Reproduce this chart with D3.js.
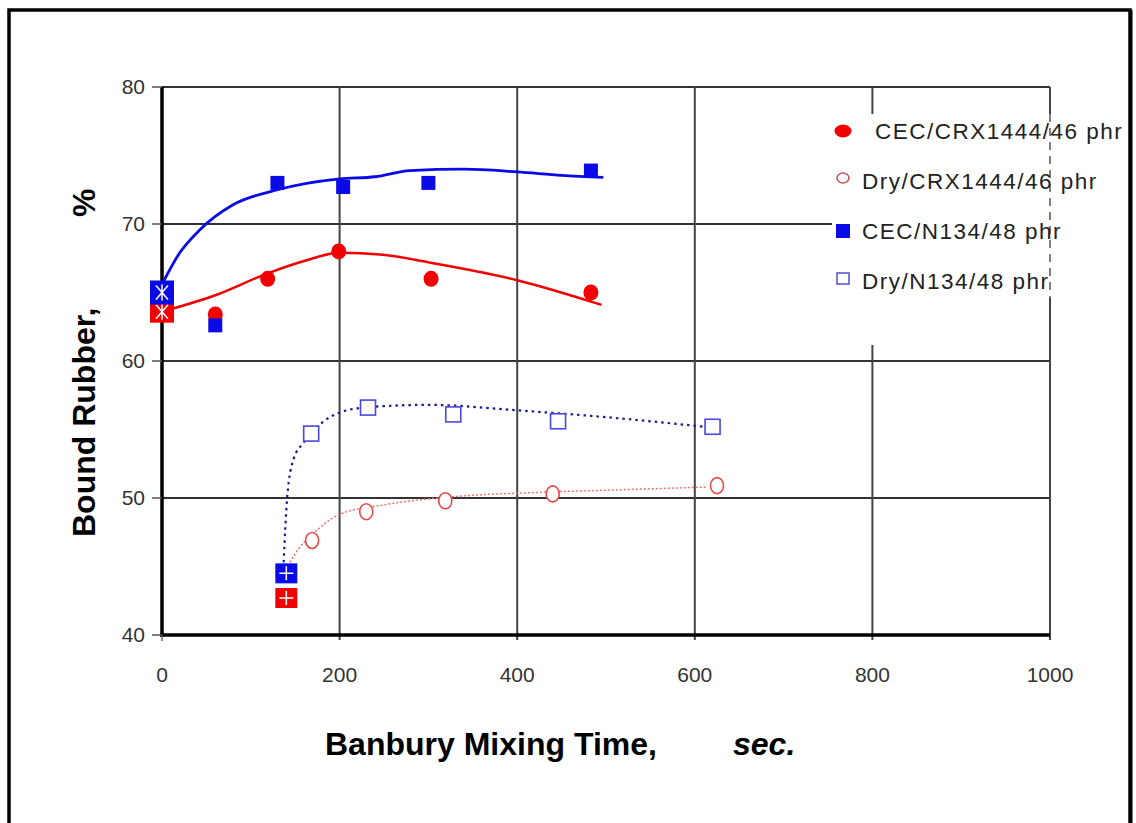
<!DOCTYPE html>
<html>
<head>
<meta charset="utf-8">
<script src="https://cdn.jsdelivr.net/npm/d3@7"></script>
<style>
  body { margin: 0; background: #fff; }
  svg text { font-family: "Liberation Sans", Arial, sans-serif; }
</style>
</head>
<body>
<div id="chart"></div>
<script>
const cecCrxTime = [60, 119, 199, 303, 483];
const cecCrxBR = [63.4, 66.0, 68.0, 66.0, 65.0];
const cecN134Time = [60, 130, 204, 300, 483];
const cecN134BR = [62.6, 73.0, 72.7, 73.0, 73.9];
const dryCrxTime = [169, 230, 319, 440, 625];
const dryCrxBR = [46.9, 49.0, 49.8, 50.3, 50.9];
const dryN134Time = [168, 232, 328, 446, 620];
const dryN134BR = [54.7, 56.6, 56.1, 55.6, 55.2];

// starting points (square markers)
const cecStartTime = 0;
const cecStartBR = { crx: 63.6, n134: 65.0 };
const dryStartTime = 140;
const dryStartBR = { crx: 42.7, n134: 44.5 };

// trend lines
const cecN134FitTime = [0, 20, 43, 80, 130, 200, 240, 279, 340, 400, 450, 497];
const cecN134FitBR = [65.6, 67.9, 69.6, 71.4, 72.5, 73.3, 73.45, 73.9, 74.0, 73.8, 73.55, 73.4];
const cecCrxFitTime = [0, 60, 119, 160, 200, 249, 300, 400, 495];
const cecCrxFitBR = [63.6, 64.8, 66.4, 67.3, 67.9, 67.75, 67.2, 65.9, 64.1];
const dryN134FitTime = [137, 139, 141, 148, 159, 172, 189, 227, 300, 400, 500, 611];
const dryN134FitBR = [45.3, 48.0, 50.1, 52.8, 54.0, 55.0, 55.9, 56.6, 56.8, 56.4, 55.9, 55.2];
const dryCrxFitTime = [144, 155, 167, 200, 250, 328, 420, 516, 614];
const dryCrxFitBR = [45.3, 46.4, 47.2, 48.8, 49.5, 50.1, 50.4, 50.6, 50.8];

const xTicks = [0, 200, 400, 600, 800, 1000];
const yTicks = [40, 50, 60, 70, 80];
const legendLabels = ["CEC/CRX1444/46 phr", "Dry/CRX1444/46 phr", "CEC/N134/48 phr", "Dry/N134/48 phr"];

const width = 1136, height = 823;
const red = "#f00000", blue = "#0a0ae6";

const svg = d3.select("#chart").append("svg")
  .attr("width", width).attr("height", height);

// outer frame
svg.append("rect").attr("x", 9).attr("y", 10).attr("width", 1121).attr("height", 830)
  .attr("fill", "none").attr("stroke", "#000").attr("stroke-width", 3.5);
svg.append("line").attr("x1", 1131).attr("x2", 1131).attr("y1", 10).attr("y2", 823)
  .attr("stroke", "#000").attr("stroke-width", 3);

const x = d3.scaleLinear().domain([0, 1000]).range([162, 1050]);
const y = d3.scaleLinear().domain([40, 80]).range([635, 87]);

// grid
svg.append("g").selectAll("line").data(yTicks.slice(1)).join("line")
  .attr("x1", x(0)).attr("x2", x(1000))
  .attr("y1", d => y(d)).attr("y2", d => y(d))
  .attr("stroke", "#333").attr("stroke-width", 2);
svg.append("g").selectAll("line").data(xTicks.slice(1)).join("line")
  .attr("x1", d => x(d)).attr("x2", d => x(d))
  .attr("y1", y(80)).attr("y2", y(40) + 5)
  .attr("stroke", "#444").attr("stroke-width", 2);

// legend background hides part of the grid
svg.append("rect").attr("x", 832).attr("y", 114).attr("width", 214).attr("height", 231).attr("fill", "#fff");
svg.append("rect").attr("x", 1046).attr("y", 114).attr("width", 80).attr("height", 184).attr("fill", "#fff");
svg.append("line").attr("x1", x(1000)).attr("x2", x(1000)).attr("y1", 114).attr("y2", 298)
  .attr("stroke", "#555").attr("stroke-width", 1.5).attr("stroke-dasharray", "8,6");

// axes
svg.append("line").attr("x1", x(0)).attr("x2", x(0)).attr("y1", y(80)).attr("y2", y(40) + 2)
  .attr("stroke", "#000").attr("stroke-width", 3.5);
svg.append("line").attr("x1", x(0) - 2).attr("x2", x(1000)).attr("y1", y(40)).attr("y2", y(40))
  .attr("stroke", "#000").attr("stroke-width", 3.5);
svg.append("g").selectAll("line").data(yTicks).join("line")
  .attr("x1", x(0) - 10).attr("x2", x(0))
  .attr("y1", d => y(d)).attr("y2", d => y(d))
  .attr("stroke", "#555").attr("stroke-width", 1.5);
svg.append("line").attr("x1", x(0)).attr("x2", x(0)).attr("y1", y(40)).attr("y2", y(40) + 6)
  .attr("stroke", "#666").attr("stroke-width", 1.5);

svg.append("g").selectAll("text").data(yTicks).join("text")
  .attr("x", 145).attr("y", d => y(d) + 7)
  .attr("text-anchor", "end").attr("font-size", 21).attr("fill", "#333")
  .text(d => d);
svg.append("g").selectAll("text").data(xTicks).join("text")
  .attr("x", d => x(d)).attr("y", 682)
  .attr("text-anchor", "middle").attr("font-size", 21).attr("fill", "#333")
  .text(d => d);

// axis titles
svg.append("text").attr("x", 325).attr("y", 755)
  .attr("font-size", 32).attr("font-weight", "bold").text("Banbury Mixing Time,");
svg.append("text").attr("x", 733).attr("y", 755)
  .attr("font-size", 32).attr("font-weight", "bold").attr("font-style", "italic").text("sec.");
svg.append("text").attr("transform", "translate(95,537) rotate(-90)")
  .attr("font-size", 32).attr("font-weight", "bold").text("Bound Rubber,");
svg.append("text").attr("transform", "translate(95,217) rotate(-90)")
  .attr("font-size", 32).attr("font-weight", "bold").text("%");

// trend lines
const line = d3.line().x(d => x(d[0])).y(d => y(d[1])).curve(d3.curveMonotoneX);
svg.append("path").datum(d3.zip(dryCrxFitTime, dryCrxFitBR)).attr("d", line)
  .attr("fill", "none").attr("stroke", "#f07070").attr("stroke-width", 1.5).attr("stroke-dasharray", "2,2");
svg.append("path").datum(d3.zip(dryN134FitTime, dryN134FitBR)).attr("d", line)
  .attr("fill", "none").attr("stroke", "#1a1a9a").attr("stroke-width", 2.2).attr("stroke-dasharray", "2.5,4");
svg.append("path").datum(d3.zip(cecCrxFitTime, cecCrxFitBR)).attr("d", line)
  .attr("fill", "none").attr("stroke", red).attr("stroke-width", 2.5);
svg.append("path").datum(d3.zip(cecN134FitTime, cecN134FitBR)).attr("d", line)
  .attr("fill", "none").attr("stroke", blue).attr("stroke-width", 2.8);

// starting squares with white glyphs
function startSquare(t, v, colour, glyph, w, h) {
  const g = svg.append("g").attr("transform", `translate(${x(t)},${y(v)})`);
  g.append("rect").attr("x", -w / 2).attr("y", -h / 2).attr("width", w).attr("height", h).attr("fill", colour);
  if (glyph === "+") {
    g.append("path").attr("d", "M-7,0H7M0,-7V7").attr("stroke", "#fff").attr("stroke-width", 1.5);
  } else {
    g.append("path").attr("d", "M-6,-7L6,7M6,-7L-6,7M0,-8V8").attr("stroke", "#fff").attr("stroke-width", 1.5);
  }
}
startSquare(cecStartTime, cecStartBR.crx, red, "*", 24, 22);
startSquare(cecStartTime, cecStartBR.n134, blue, "*", 24, 24);
startSquare(dryStartTime, dryStartBR.crx, red, "+", 22, 20);
startSquare(dryStartTime, dryStartBR.n134, blue, "+", 22, 20);

// markers
svg.append("g").selectAll("ellipse").data(d3.zip(cecCrxTime, cecCrxBR)).join("ellipse")
  .attr("cx", d => x(d[0])).attr("cy", d => y(d[1])).attr("rx", 7.5).attr("ry", 8)
  .attr("fill", red);
svg.append("g").selectAll("rect").data(d3.zip(cecN134Time, cecN134BR)).join("rect")
  .attr("x", d => x(d[0]) - 7).attr("y", d => y(d[1]) - 7).attr("width", 14).attr("height", 14)
  .attr("fill", blue);
svg.append("g").selectAll("ellipse").data(d3.zip(dryCrxTime, dryCrxBR)).join("ellipse")
  .attr("cx", d => x(d[0])).attr("cy", d => y(d[1])).attr("rx", 6.5).attr("ry", 8)
  .attr("fill", "#fff").attr("stroke", "#e84848").attr("stroke-width", 1.6);
svg.append("g").selectAll("rect").data(d3.zip(dryN134Time, dryN134BR)).join("rect")
  .attr("x", d => x(d[0]) - 7.5).attr("y", d => y(d[1]) - 7.5).attr("width", 15).attr("height", 15)
  .attr("fill", "#fff").attr("stroke", "#4848e0").attr("stroke-width", 1.6);

// legend
const ly = d3.scalePoint().domain(legendLabels).range([131, 281]);
const lx = 843;
const leg = svg.append("g");
leg.append("ellipse").attr("cx", lx).attr("cy", ly(legendLabels[0])).attr("rx", 8.5).attr("ry", 6.5).attr("fill", red);
leg.append("ellipse").attr("cx", lx).attr("cy", ly(legendLabels[1]) - 3).attr("rx", 6).attr("ry", 5)
  .attr("fill", "#fff").attr("stroke", "#c85050").attr("stroke-width", 1.5);
leg.append("rect").attr("x", lx - 7).attr("y", ly(legendLabels[2]) - 7).attr("width", 14).attr("height", 14).attr("fill", blue);
leg.append("rect").attr("x", lx - 6).attr("y", ly(legendLabels[3]) - 8).attr("width", 12).attr("height", 11)
  .attr("fill", "#fff").attr("stroke", "#5050d0").attr("stroke-width", 1.5);
leg.selectAll("text").data(legendLabels).join("text")
  .attr("x", (d, i) => i === 0 ? 875 : 862).attr("y", d => ly(d) + 8)
  .attr("font-size", 22.5).attr("letter-spacing", 1.5).attr("fill", "#222")
  .text(d => d);
</script>
</body>
</html>
